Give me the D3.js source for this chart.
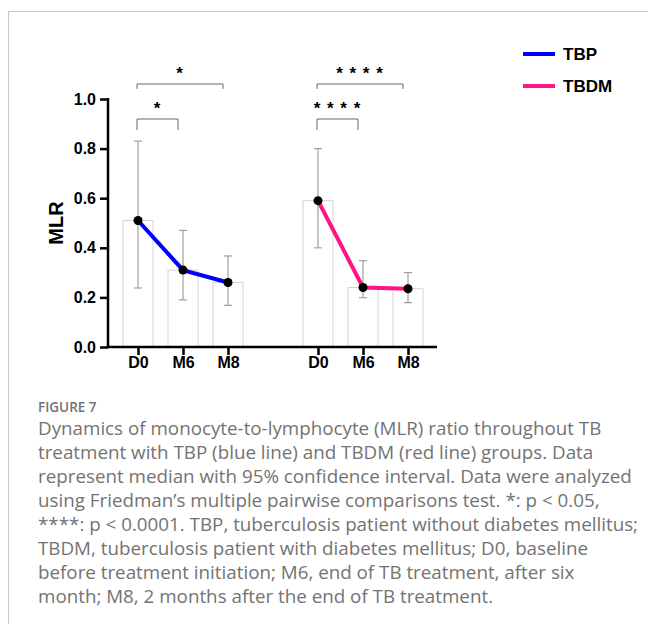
<!DOCTYPE html>
<html>
<head>
<meta charset="utf-8">
<title>MLR</title>
<script src="https://cdn.jsdelivr.net/npm/d3@7"></script>
<style>
body { margin: 0; background: #fff; }
svg text { font-family: Arial, "Liberation Sans", sans-serif; }
.cap { font-family: "Open Sans", Lato, sans-serif; fill: #737373; }
</style>
</head>
<body>
<div id="chart"></div>
<script>
// data
var timepoints = ['D0', 'M6', 'M8'];
var groups = ['TBP', 'TBDM'];
var medians = {
    TBP: [0.51, 0.31, 0.26],
    TBDM: [0.59, 0.24, 0.235]
};
var ciLow = {
    TBP: [0.238, 0.19, 0.168],
    TBDM: [0.40, 0.199, 0.179]
};
var ciHigh = {
    TBP: [0.83, 0.47, 0.367],
    TBDM: [0.80, 0.348, 0.30]
};
var yTicks = [0, 0.2, 0.4, 0.6, 0.8, 1.0];
var colors = { TBP: '#0000ff', TBDM: '#ff1486' };
// comparisons: [group, from, to, label, level]
var comparisons = [
    ['TBP', 0, 1, '*', 0],
    ['TBP', 0, 2, '*', 1],
    ['TBDM', 0, 1, '* * * *', 0],
    ['TBDM', 0, 2, '* * * *', 1]
];
var captionTitle = 'FIGURE 7';
var captionLines = [
    'Dynamics of monocyte-to-lymphocyte (MLR) ratio throughout TB',
    'treatment with TBP (blue line) and TBDM (red line) groups. Data',
    'represent median with 95% confidence interval. Data were analyzed',
    'using Friedman\u2019s multiple pairwise comparisons test. *: p < 0.05,',
    '****: p < 0.0001. TBP, tuberculosis patient without diabetes mellitus;',
    'TBDM, tuberculosis patient with diabetes mellitus; D0, baseline',
    'before treatment initiation; M6, end of TB treatment, after six',
    'month; M8, 2 months after the end of TB treatment.'
];

var W = 648, H = 624;
var svg = d3.select('#chart').append('svg')
    .attr('width', W)
    .attr('height', H);

// frame
svg.append('path')
    .attr('d', 'M8.5,' + H + 'V11.5H' + W)
    .attr('fill', 'none')
    .attr('stroke', '#c8c8c8')
    .attr('stroke-width', 1);

// slot index: group 0 -> 0,1,2 ; group 1 -> 4,5,6 (gap of one slot)
function slot(g, i) { return g * 4 + i; }

var x = d3.scaleLinear().domain([0, 6]).range([138, 408]);
var y = d3.scaleLinear().domain([0, 1]).range([347, 99]);
var xLeft = 108, xRight = 437;
var barW = 30;

var plot = svg.append('g');

// bars, error bars, lines
groups.forEach(function(g, gi) {
    var pts = timepoints.map(function(t, i) {
        return { x: x(slot(gi, i)), m: medians[g][i], lo: ciLow[g][i], hi: ciHigh[g][i] };
    });

    plot.selectAll('rect.bar-' + g)
        .data(pts)
        .enter().append('rect')
        .attr('class', 'bar-' + g)
        .attr('x', function(d) { return d.x - barW / 2; })
        .attr('y', function(d) { return y(d.m); })
        .attr('width', barW)
        .attr('height', function(d) { return y(0) - y(d.m); })
        .attr('fill', '#fff')
        .attr('stroke', '#d4d4d4')
        .attr('stroke-width', 1);

    var eb = plot.selectAll('g.eb-' + g)
        .data(pts)
        .enter().append('g')
        .attr('class', 'eb-' + g)
        .attr('stroke', '#a0a0a0')
        .attr('stroke-width', 1.2);
    eb.append('line')
        .attr('x1', function(d) { return d.x; })
        .attr('x2', function(d) { return d.x; })
        .attr('y1', function(d) { return y(d.lo); })
        .attr('y2', function(d) { return y(d.hi); });
    eb.append('line')
        .attr('x1', function(d) { return d.x - 4; })
        .attr('x2', function(d) { return d.x + 4; })
        .attr('y1', function(d) { return y(d.lo); })
        .attr('y2', function(d) { return y(d.lo); });
    eb.append('line')
        .attr('x1', function(d) { return d.x - 4; })
        .attr('x2', function(d) { return d.x + 4; })
        .attr('y1', function(d) { return y(d.hi); })
        .attr('y2', function(d) { return y(d.hi); });

    plot.append('path')
        .datum(pts)
        .attr('fill', 'none')
        .attr('stroke', colors[g])
        .attr('stroke-width', 4)
        .attr('d', d3.line().x(function(d) { return d.x; }).y(function(d) { return y(d.m); }));

    plot.selectAll('circle.pt-' + g)
        .data(pts)
        .enter().append('circle')
        .attr('class', 'pt-' + g)
        .attr('cx', function(d) { return d.x; })
        .attr('cy', function(d) { return y(d.m); })
        .attr('r', 4.5)
        .attr('fill', '#000');
});

// y axis
var yAxis = svg.append('g')
    .attr('transform', 'translate(' + xLeft + ',0)')
    .call(d3.axisLeft(y).tickValues(yTicks).tickFormat(d3.format('.1f')).tickSize(8).tickSizeOuter(0));
yAxis.select('.domain').attr('stroke-width', 2.5).attr('d', 'M0,' + y(0) + 'V' + (y(1) - 1));
yAxis.selectAll('.tick line').attr('stroke-width', 2.5);
yAxis.selectAll('.tick text')
    .attr('x', -12)
    .attr('font-size', 16)
    .attr('font-weight', 'bold')
    .attr('fill', '#000')
    .attr('font-family', 'Arial, "Liberation Sans", sans-serif');

// x axis
var xTickVals = [];
var xTickLabels = [];
groups.forEach(function(g, gi) {
    timepoints.forEach(function(t, i) { xTickVals.push(slot(gi, i)); xTickLabels.push(t); });
});
var xAxis = svg.append('g')
    .attr('transform', 'translate(0,' + y(0) + ')')
    .call(d3.axisBottom(x).tickValues(xTickVals).tickFormat(function(d, i) { return xTickLabels[i]; }).tickSize(8).tickSizeOuter(0));
xAxis.select('.domain').attr('stroke-width', 2.5).attr('d', 'M' + (xLeft - 1) + ',0H' + xRight);
xAxis.selectAll('.tick line').attr('stroke-width', 2.5);
xAxis.selectAll('.tick text')
    .attr('y', 10)
    .attr('font-size', 16)
    .attr('font-weight', 'bold')
    .attr('fill', '#000')
    .attr('font-family', 'Arial, "Liberation Sans", sans-serif');

// y label
svg.append('text')
    .attr('transform', 'translate(63,' + y(0.5) + ') rotate(-90)')
    .attr('text-anchor', 'middle')
    .attr('font-size', 20)
    .attr('font-weight', 'bold')
    .text('MLR');

// significance brackets
var levelY = [119, 84];
var legH = [11, 5];
comparisons.forEach(function(c) {
    var gi = groups.indexOf(c[0]);
    var x1 = x(slot(gi, c[1])) - 1;
    var x2 = x(slot(gi, c[2])) - 5;
    var yy = levelY[c[4]];
    svg.append('path')
        .attr('d', 'M' + x1 + ',' + (yy + legH[c[4]]) + 'V' + yy + 'H' + x2 + 'V' + (yy + legH[c[4]]))
        .attr('fill', 'none')
        .attr('stroke', '#666')
        .attr('stroke-width', 1);
    svg.append('text')
        .attr('x', (x1 + x2) / 2)
        .attr('y', yy - 5)
        .attr('text-anchor', 'middle')
        .attr('font-size', 17)
        .attr('font-weight', 'bold')
        .attr('letter-spacing', 1)
        .text(c[3]);
});

// legend
var legend = svg.append('g');
groups.forEach(function(g, i) {
    var ly = 54 + i * 32;
    legend.append('line')
        .attr('x1', 523).attr('x2', 555)
        .attr('y1', ly).attr('y2', ly)
        .attr('stroke', colors[g])
        .attr('stroke-width', 4);
    legend.append('text')
        .attr('x', 563)
        .attr('y', ly)
        .attr('dy', '0.35em')
        .attr('font-size', 17)
        .attr('font-weight', 'bold')
        .text(g);
});

// caption
svg.append('text')
    .attr('class', 'cap')
    .attr('x', 38)
    .attr('y', 412)
    .attr('font-size', 13.5)
    .attr('font-weight', 600)
    .text(captionTitle);
svg.selectAll('text.capline')
    .data(captionLines)
    .enter().append('text')
    .attr('class', 'cap capline')
    .attr('x', 38)
    .attr('y', function(d, i) { return 435 + i * 24; })
    .attr('font-size', 18.8)
    .text(function(d) { return d; });
</script>
</body>
</html>
